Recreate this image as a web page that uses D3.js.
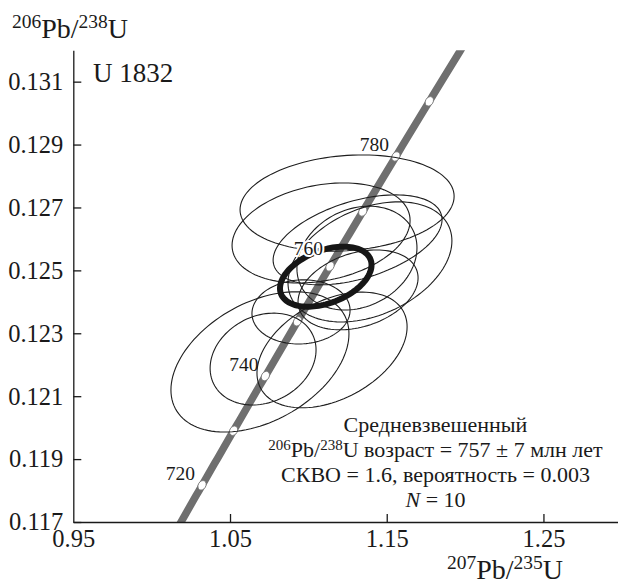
<html>
<head>
  <meta charset="UTF-8">
  <title>U 1832 concordia</title>
  <script src="https://d3js.org/d3.v7.min.js"></script>
  <style>
    body { margin: 0; background: white; }
    text { font-family: "Liberation Serif", "Times New Roman", Times, serif; fill: #1a1a1a; }
  </style>
</head>
<body>
<svg></svg>
<script>

    // Data

    // analyses: centre 207Pb/235U, centre 206Pb/238U, half widths, error correlation
    const spotX = [1.1247, 1.1081, 1.1314, 1.1393, 1.1310, 1.0953, 1.1151, 1.0691, 1.0711, 1.1317];
    const spotY = [0.12714, 0.12619, 0.12597, 0.12527, 0.12539, 0.12368, 0.12247, 0.12209, 0.12218, 0.12438];
    const errX = [0.0683, 0.0568, 0.0539, 0.0523, 0.0383, 0.0313, 0.0479, 0.0568, 0.0338, 0.0383];
    const errY = [0.00153, 0.00159, 0.00143, 0.00191, 0.00165, 0.00102, 0.00184, 0.00223, 0.00146, 0.00127];
    const rho = [0.14, 0.25, 0.45, 0.35, 0.2, 0.05, 0.4, 0.4, 0.2, 0.3];

    // weighted mean ellipse
    const meanX = 1.1111, meanY = 0.1248, meanErrX = 0.0292, meanErrY = 0.000954, meanRho = 0.39;

    // concordia age marks (Ma) and the ones that are labelled
    const ages = [720, 730, 740, 750, 760, 770, 780, 790];
    const labelledAges = [720, 740, 760, 780];

    const xTicks = [0.95, 1.05, 1.15, 1.25];
    const yTicks = [0.117, 0.119, 0.121, 0.123, 0.125, 0.127, 0.129, 0.131];

    const statLines = ["Средневзвешенный", "возраст = 757 ± 7 млн лет", "СКВО = 1.6, вероятность = 0.003", "= 10"];

    // Setup

    const width = 618;
    const height = 585;

    let svg = d3.select("svg")
                .attr("width", width)
                .attr("height", height);

    const x = d3.scaleLinear().domain([0.95, 1.30]).range([73.3, 621.8]);
    const y = d3.scaleLinear().domain([0.117, 0.132]).range([522, 50.2]);

    svg.append("clipPath").attr("id", "plot")
        .append("rect")
        .attr("x", x(0.95)).attr("y", y(0.132))
        .attr("width", width - x(0.95)).attr("height", y(0.117) - y(0.132));

    // Concordia (decay constants of 238U and 235U)
    const l238 = 1.55125e-10, l235 = 9.8485e-10;
    const conc = t => [Math.expm1(l235 * t * 1e6), Math.expm1(l238 * t * 1e6)];

    const line = d3.line().x(d => x(d[0])).y(d => y(d[1]));
    svg.append("path")
        .attr("clip-path", "url(#plot)")
        .attr("d", line(d3.range(705, 806, 1).map(conc)))
        .attr("fill", "none")
        .attr("stroke", "#6f6f6f")
        .attr("stroke-width", 7.5);

    ages.forEach(a => {
        const p = conc(a), q = conc(a + 1);
        const ang = Math.atan2(y(q[1]) - y(p[1]), x(q[0]) - x(p[0])) * 180 / Math.PI;
        svg.append("ellipse")
            .attr("transform", `translate(${x(p[0])},${y(p[1])}) rotate(${ang})`)
            .attr("rx", 5).attr("ry", 3.8)
            .attr("fill", "white")
            .attr("stroke", "#777")
            .attr("stroke-width", 0.8);
    });

    // Error ellipses
    function ellipse(cx, cy, sx, sy, r) {
        const k = Math.sqrt(1 - r * r);
        return d3.range(0, 360, 3).map(a => {
            const t = a * Math.PI / 180;
            return [cx + sx * Math.cos(t), cy + sy * (r * Math.cos(t) + k * Math.sin(t))];
        });
    }
    const closed = d3.line().x(d => x(d[0])).y(d => y(d[1])).curve(d3.curveLinearClosed);

    spotX.forEach((cx, i) => {
        svg.append("path")
            .attr("d", closed(ellipse(cx, spotY[i], errX[i], errY[i], rho[i])))
            .attr("fill", "none")
            .attr("stroke", "#1e1e1e")
            .attr("stroke-width", 1.1);
    });

    svg.append("path")
        .attr("d", closed(ellipse(meanX, meanY, meanErrX, meanErrY, meanRho)))
        .attr("fill", "none")
        .attr("stroke", "#161616")
        .attr("stroke-width", 6);

    // Age labels
    labelledAges.forEach(a => {
        const p = conc(a);
        svg.append("text")
            .attr("x", x(p[0]) - 7)
            .attr("y", y(p[1]) - (a == 760 ? 11 : 5))
            .attr("text-anchor", "end")
            .style("font-size", "19.5px")
            .style("stroke", a == 760 ? "white" : "none")
            .style("stroke-width", 4)
            .style("paint-order", "stroke")
            .text(a);
    });

    // Axes
    let leftAxis = d3.axisLeft(y).tickValues(yTicks).tickFormat(d3.format(".3f"))
                     .tickSizeInner(-8).tickSizeOuter(0).tickPadding(10);
    let gy = svg.append("g")
        .attr("transform", `translate(${x(0.95)}, 0)`)
        .call(leftAxis);

    let bottomAxis = d3.axisBottom(x).tickValues(xTicks).tickFormat(d3.format(".2f"))
                       .tickSizeInner(-8).tickSizeOuter(0).tickPadding(8);
    let gx = svg.append("g")
        .attr("transform", `translate(0, ${y(0.117)})`)
        .call(bottomAxis);

    [gx, gy].forEach(g => {
        g.attr("font-family", null).attr("font-size", null);
        g.select(".domain").attr("stroke", "#1a1a1a").attr("stroke-width", 1.3);
        g.selectAll(".tick line").attr("stroke", "#1a1a1a").attr("stroke-width", 1.3);
        g.selectAll(".tick text").style("font-size", "24.5px").attr("fill", "#1a1a1a");
    });
    gx.selectAll(".tick").filter(d => d == 0.95).select("line").remove();

    // Axis titles
    function ratio(g, a, b) {
        let t = g.append("text").style("font-size", "28px");
        t.append("tspan").style("font-size", "19.5px").attr("dy", -10).text(a);
        t.append("tspan").attr("dy", 10).text("Pb/");
        t.append("tspan").style("font-size", "19.5px").attr("dy", -10).text(b);
        t.append("tspan").attr("dy", 10).text("U");
        return t;
    }
    ratio(svg, "206", "238").attr("x", 12).attr("y", 38);
    ratio(svg, "207", "235").attr("x", 447).attr("y", 579);

    svg.append("text")
        .attr("x", 93).attr("y", 82)
        .style("font-size", "27px")
        .text("U 1832");

    // Statistics
    let stats = svg.append("g").style("font-size", "22px").attr("text-anchor", "middle");
    stats.append("text").attr("x", 435.5).attr("y", 431.7).text(statLines[0]);
    let l2 = stats.append("text").attr("x", 435.5).attr("y", 456.7);
    l2.append("tspan").style("font-size", "15px").attr("dy", -7).text("206");
    l2.append("tspan").attr("dy", 7).text("Pb/");
    l2.append("tspan").style("font-size", "15px").attr("dy", -7).text("238");
    l2.append("tspan").attr("dy", 7).text("U " + statLines[1]);
    stats.append("text").attr("x", 435.5).attr("y", 481.7).text(statLines[2]);
    let l4 = stats.append("text").attr("x", 435.5).attr("y", 507);
    l4.append("tspan").style("font-style", "italic").text("N");
    l4.append("tspan").text(" " + statLines[3]);

</script>
</body>
</html>
